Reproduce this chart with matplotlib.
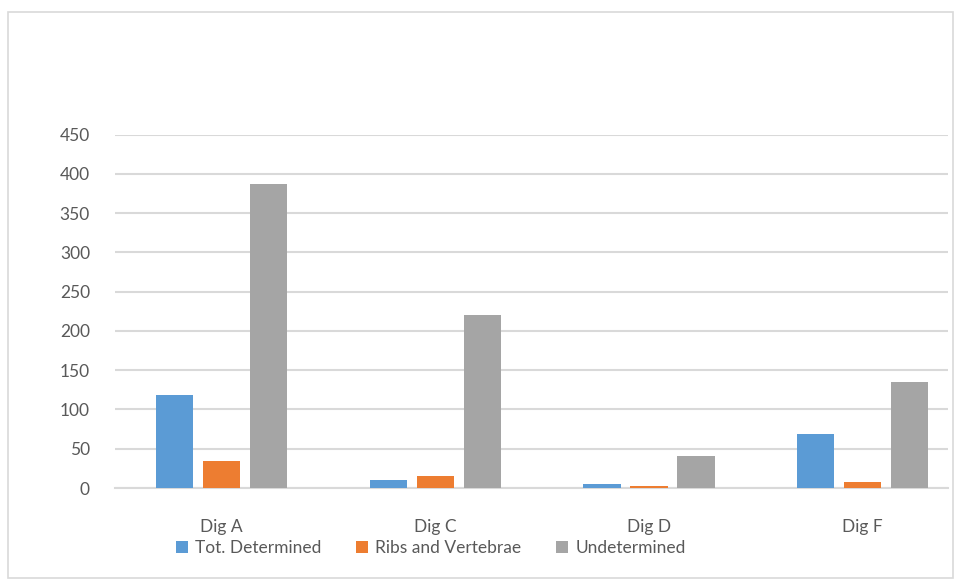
import numpy as np
import matplotlib
matplotlib.use('Agg')
import matplotlib.pyplot as plt
from matplotlib.patches import Rectangle

plt.rcParams['font.family'] = ['Lato', 'DejaVu Sans']

# Data
categories = ['Dig A', 'Dig C', 'Dig D', 'Dig F']
tot_determined = [118, 10, 5, 69]
ribs_vertebrae = [34, 15, 3, 8]
undetermined = [387, 220, 41, 135]
series_names = ['Tot. Determined', 'Ribs and Vertebrae', 'Undetermined']
colors = ['#5B9BD5', '#ED7D31', '#A5A5A5']

fig = plt.figure(figsize=(9.55, 5.8), dpi=100)
ax = fig.add_axes([0.1204, 0.1586, 0.8723, 0.6092])

# outer chart border
fig.patches.append(Rectangle((8 / 955, 2 / 580), 945 / 955, 566 / 580,
                             transform=fig.transFigure, fill=False,
                             edgecolor='#D9D9D9', linewidth=1.2))

x = np.arange(len(categories))
width = 0.175
step = 0.22
for i, (vals, name) in enumerate(zip([tot_determined, ribs_vertebrae, undetermined], series_names)):
    ax.bar(x + (i - 1) * step, vals, width, color=colors[i], label=name, zorder=3)

ax.set_ylim(0, 450)
ax.set_xlim(-0.5, 3.4)
ax.set_yticks(np.arange(0, 451, 50))
ax.set_xticks(x)
ax.set_xticklabels(categories)
ax.yaxis.grid(True, color='#D9D9D9', linewidth=1.5, zorder=0)
ax.tick_params(axis='both', length=0, labelsize=12.5, colors='#595959')
ax.tick_params(axis='x', pad=22)
ax.tick_params(axis='y', pad=18)
for s in ['top', 'right', 'left']:
    ax.spines[s].set_visible(False)
ax.spines['bottom'].set_color('#D9D9D9')
ax.spines['bottom'].set_linewidth(1.5)

leg = fig.legend(loc='center', bbox_to_anchor=(0.451, 0.055), ncol=3, frameon=False,
                 fontsize=12.5, handlelength=0.7, handleheight=0.7, handletextpad=0.4,
                 columnspacing=2.0)
for t in leg.get_texts():
    t.set_color('#595959')

fig.savefig('out.png', dpi=100)
